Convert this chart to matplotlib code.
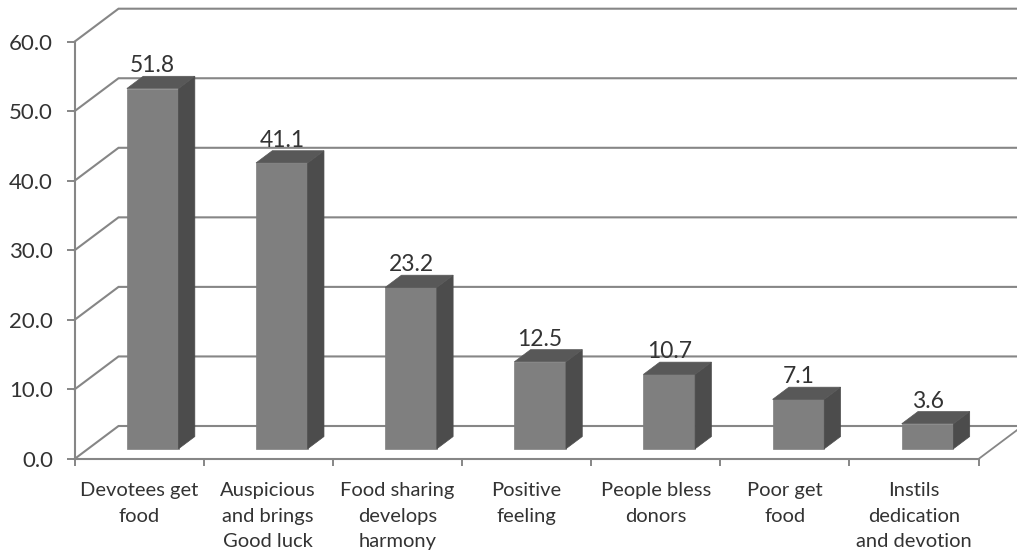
import matplotlib
matplotlib.use('Agg')
import matplotlib.pyplot as plt
from matplotlib.patches import Polygon
import numpy as np

categories = ['Devotees get\nfood', 'Auspicious\nand brings\nGood luck',
              'Food sharing\ndevelops\nharmony', 'Positive\nfeeling',
              'People bless\ndonors', 'Poor get\nfood',
              'Instils\ndedication\nand devotion']
values = [51.8, 41.1, 23.2, 12.5, 10.7, 7.1, 3.6]
y_ticks = [0, 10, 20, 30, 40, 50, 60]

W, H = 1017, 556
TEXT = '#333333'
GRID = '#868686'

plt.rcParams['font.family'] = ['Lato', 'DejaVu Sans']

fig = plt.figure(figsize=(W / 100, H / 100), dpi=100)
# Оси: передняя рамка псевдо-3D графика
ax = fig.add_axes([74.5 / W, 1 - 459 / H, 904 / W, 417.3 / H])
ax.set_xlim(0, 7)
ax.set_ylim(0, 60)

# Сдвиг задней стенки в единицах данных
DEPTH_X = 44 / 129.1
DEPTH_Y = 33 / 6.955


def shift(x, y, d):
    return x + d * DEPTH_X, y + d * DEPTH_Y


# Сетка на стенке и линии пола
for v in y_ticks:
    x0, y0 = shift(0, v, 0)
    x1, y1 = shift(0, v, 1)
    ax.plot([x0, x1, 7 + DEPTH_X], [y0, y1, y1], color=GRID, lw=1.5,
            clip_on=False, zorder=1, solid_joinstyle='miter')
ax.plot([7, 7 + DEPTH_X], [0, DEPTH_Y], color=GRID, lw=1.3, clip_on=False, zorder=1)

# Столбцы: передняя грань, бок и верх
bar_w = 0.4
d0, d1 = 0.31, 0.68
for i, v in enumerate(values):
    xl = i + 0.5 - bar_w / 2
    xr = i + 0.5 + bar_w / 2
    front = [shift(xl, 0, d0), shift(xr, 0, d0), shift(xr, v, d0), shift(xl, v, d0)]
    side = [shift(xr, 0, d0), shift(xr, 0, d1), shift(xr, v, d1), shift(xr, v, d0)]
    top = [shift(xl, v, d0), shift(xr, v, d0), shift(xr, v, d1), shift(xl, v, d1)]
    for pts, c in [(front, '#7f7f7f'), (side, '#4c4c4c'), (top, '#585858')]:
        ax.add_patch(Polygon(pts, closed=True, facecolor=c, edgecolor=c, lw=0.5,
                             clip_on=False, zorder=3))
    lx, ly = shift(i + 0.5, v, d1)
    ax.text(lx - (d1 - d0) * DEPTH_X, ly + 0.55, f'{v:.1f}', ha='center', va='baseline',
            fontsize=16.5, color=TEXT, zorder=4)

# Подписи и деления осей
for name in ['top', 'right']:
    ax.spines[name].set_visible(False)
for name in ['left', 'bottom']:
    ax.spines[name].set_color(GRID)
    ax.spines[name].set_linewidth(1.5)

ax.set_yticks(y_ticks)
ax.set_yticklabels([f'{v:.1f}' for v in y_ticks], fontsize=16, color=TEXT)
ax.tick_params(axis='y', length=5.5, width=1.4, color=GRID, pad=10)

ax.set_xticks(np.arange(8))
ax.set_xticklabels([])
ax.tick_params(axis='x', which='major', length=5, width=1.4, color=GRID)
ax.set_xticks(np.arange(7) + 0.5, minor=True)
ax.set_xticklabels(categories, minor=True, fontsize=14.5, color=TEXT, linespacing=1.62)
ax.tick_params(axis='x', which='minor', length=0, pad=16.5)

fig.savefig('out.png', dpi=100, facecolor='white')
